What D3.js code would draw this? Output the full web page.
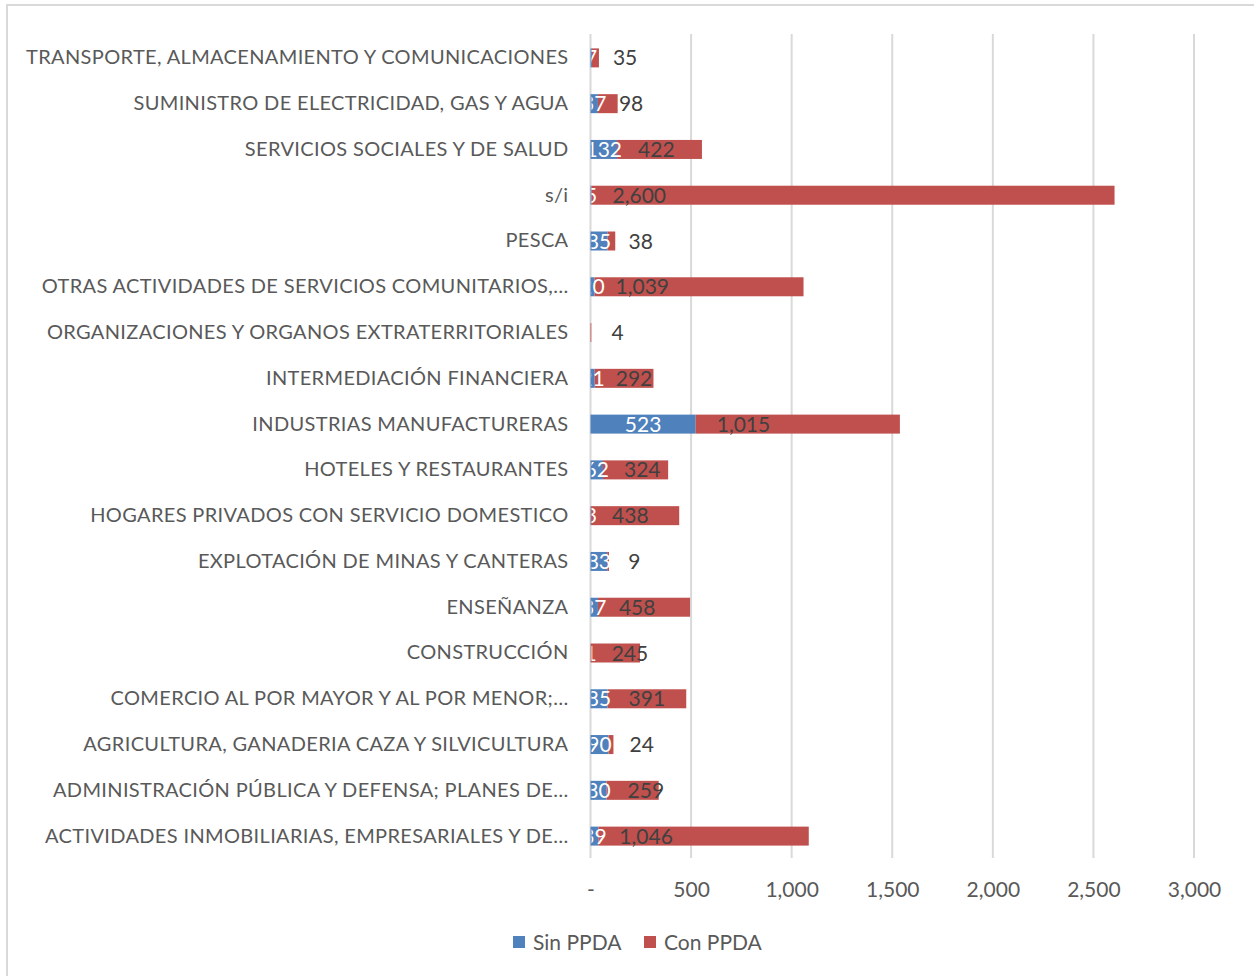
<!DOCTYPE html>
<html>
<head>
<meta charset="utf-8">
<script src="https://cdn.jsdelivr.net/npm/d3@7"></script>
<style>
  html, body { margin: 0; padding: 0; background: #ffffff; }
  svg { display: block; }
  text { font-family: Lato, "Open Sans", sans-serif; }
</style>
</head>
<body>
<svg id="chart" width="1254" height="976"></svg>
<script>
// Sectors, listed top to bottom as drawn
const categories = [
  "TRANSPORTE, ALMACENAMIENTO Y COMUNICACIONES",
  "SUMINISTRO DE ELECTRICIDAD, GAS Y AGUA",
  "SERVICIOS SOCIALES Y DE SALUD",
  "s/i",
  "PESCA",
  "OTRAS ACTIVIDADES DE SERVICIOS COMUNITARIOS,…",
  "ORGANIZACIONES Y ORGANOS EXTRATERRITORIALES",
  "INTERMEDIACIÓN FINANCIERA",
  "INDUSTRIAS MANUFACTURERAS",
  "HOTELES Y RESTAURANTES",
  "HOGARES PRIVADOS CON SERVICIO DOMESTICO",
  "EXPLOTACIÓN DE MINAS Y CANTERAS",
  "ENSEÑANZA",
  "CONSTRUCCIÓN",
  "COMERCIO AL POR MAYOR Y AL POR MENOR;…",
  "AGRICULTURA, GANADERIA CAZA Y SILVICULTURA",
  "ADMINISTRACIÓN PÚBLICA Y DEFENSA; PLANES DE…",
  "ACTIVIDADES INMOBILIARIAS, EMPRESARIALES Y DE…"
];

const sinPPDA = [7, 37, 132, 5, 85, 20, 0, 21, 523, 62, 3, 83, 37, 1, 85, 90, 80, 39];
const conPPDA = [35, 98, 422, 2600, 38, 1039, 4, 292, 1015, 324, 438, 9, 458, 245, 391, 24, 259, 1046];

const seriesNames = ["Sin PPDA", "Con PPDA"];
const seriesColors = ["#4F81BD", "#C0504D"];
const xTicks = [0, 500, 1000, 1500, 2000, 2500, 3000];

const svg = d3.select("#chart");
const plot = { left: 590.5, right: 1194, top: 35, bottom: 859 };

// Outer chart-area frame
svg.append("rect")
  .attr("x", 7).attr("y", 5)
  .attr("width", 1270).attr("height", 1000)
  .attr("fill", "none")
  .attr("stroke", "#d9d9d9")
  .attr("stroke-width", 2);

const x = d3.scaleLinear().domain([0, 3000]).range([plot.left, plot.right]);
const y = d3.scaleBand()
  .domain(categories)
  .range([plot.top, plot.bottom])
  .paddingInner(0.585)
  .paddingOuter(0.2925);

const fmt = d3.format(",");

// Vertical gridlines
svg.append("g")
  .selectAll("line")
  .data(xTicks)
  .join("line")
  .attr("x1", d => x(d)).attr("x2", d => x(d))
  .attr("y1", plot.top - 1).attr("y2", plot.bottom - 1)
  .attr("stroke", "#d9d9d9")
  .attr("stroke-width", 2);

// Bottom value axis (labels only)
const xAxis = d3.axisBottom(x)
  .tickValues(xTicks)
  .tickSize(0)
  .tickPadding(0)
  .tickFormat(d => d === 0 ? "-" : fmt(d));
const xg = svg.append("g")
  .attr("transform", `translate(0, ${plot.bottom + 23})`)
  .call(xAxis);
xg.select(".domain").remove();
xg.selectAll("text")
  .attr("font-family", "Lato, sans-serif")
  .attr("font-size", 21)
  .attr("fill", "#595959");

// Category axis (labels only)
const yAxis = d3.axisLeft(y).tickSize(0).tickPadding(22);
const yg = svg.append("g")
  .attr("transform", `translate(${plot.left}, 0)`)
  .call(yAxis);
yg.select(".domain").remove();
yg.selectAll("text")
  .attr("font-family", "Lato, sans-serif")
  .attr("font-size", 20)
  .attr("letter-spacing", "0.35px")
  .attr("fill", "#595959");

// Stacked rows
const rows = categories.map((c, i) => ({ cat: c, sin: sinPPDA[i], con: conPPDA[i] }));

const bars = svg.append("g");
bars.selectAll("rect.sin")
  .data(rows)
  .join("rect")
  .attr("class", "sin")
  .attr("x", d => x(0))
  .attr("y", d => y(d.cat))
  .attr("width", d => x(d.sin) - x(0))
  .attr("height", y.bandwidth())
  .attr("fill", seriesColors[0]);
bars.selectAll("rect.con")
  .data(rows)
  .join("rect")
  .attr("class", "con")
  .attr("x", d => x(d.sin))
  .attr("y", d => y(d.cat))
  .attr("width", d => x(d.sin + d.con) - x(d.sin))
  .attr("height", y.bandwidth())
  .attr("fill", seriesColors[1]);

// Clip for labels inside the plot area
svg.append("clipPath").attr("id", "plotClip")
  .append("rect")
  .attr("x", plot.left + 1).attr("y", plot.top)
  .attr("width", plot.right - plot.left + 60)
  .attr("height", plot.bottom - plot.top);

// Sin PPDA labels, centred in their segment
svg.append("g")
  .attr("clip-path", "url(#plotClip)")
  .selectAll("text")
  .data(rows.filter(d => d.sin > 0))
  .join("text")
  .attr("x", d => (x(0) + x(d.sin)) / 2)
  .attr("y", d => y(d.cat) + y.bandwidth() / 2)
  .attr("dy", "0.36em")
  .attr("text-anchor", "middle")
  .attr("font-size", 21)
  .attr("fill", "#ffffff")
  .text(d => fmt(d.sin));

// Con PPDA labels, at the base of their segment
svg.append("g")
  .selectAll("text")
  .data(rows)
  .join("text")
  .attr("x", d => x(d.sin) + 21)
  .attr("y", d => y(d.cat) + y.bandwidth() / 2)
  .attr("dy", "0.36em")
  .attr("text-anchor", "start")
  .attr("font-size", 21)
  .attr("fill", "#404040")
  .text(d => fmt(d.con));

// Legend
const legend = svg.append("g").attr("transform", "translate(513, 942)");
const legendX = [0, 131];
seriesNames.forEach((name, i) => {
  const g = legend.append("g").attr("transform", `translate(${legendX[i]}, 0)`);
  g.append("rect")
    .attr("x", 0).attr("y", -6)
    .attr("width", 12).attr("height", 12)
    .attr("fill", seriesColors[i]);
  g.append("text")
    .attr("x", 20).attr("y", 0)
    .attr("dy", "0.36em")
    .attr("font-size", 21)
    .attr("fill", "#595959")
    .text(name);
});
</script>
</body>
</html>
